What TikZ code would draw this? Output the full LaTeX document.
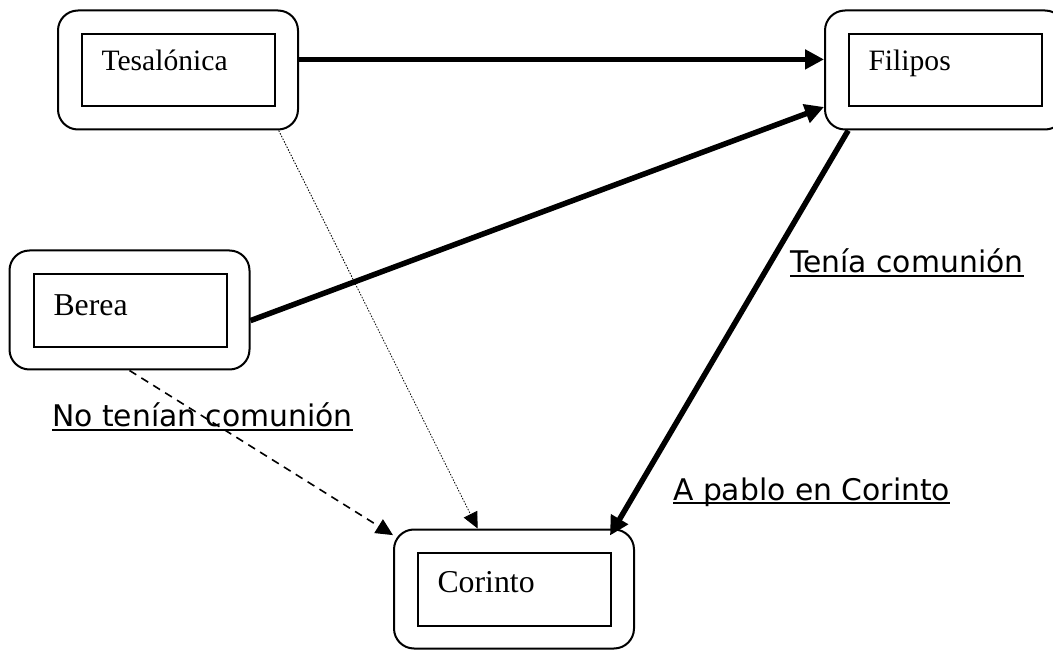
\documentclass[tikz,border=0pt]{standalone}
\usepackage{fontspec}
\setmainfont{Liberation Serif}
\newfontfamily\notefont{DejaVu Sans}
\usetikzlibrary{arrows.meta, calc}

\begin{document}
\begin{tikzpicture}[
    x=1pt, y=-1pt,
    every node/.style={align=left},
    city_frame/.style={draw, line width=2pt, rounded corners=20pt, minimum width=240pt, minimum height=119pt},
    city_box/.style={draw, line width=2pt, inner ysep=0pt, inner xsep=20pt, text width=153pt, font=\fontsize{29.6}{34}\selectfont},
    big_city/.style={font=\fontsize{31.8}{36}\selectfont},
    strong_arrow/.style={-{Triangle[length=19pt, width=19pt]}, line width=5.5pt},
    dash_arrow/.style={-{Triangle[length=17pt, width=16pt]}, line width=1.6pt, dash pattern=on 8pt off 6pt},
    dot_arrow/.style={-{Triangle[length=16pt, width=15pt]}, line width=0.8pt, dash pattern=on 1.5pt off 1.5pt},
    note/.style={inner sep=0pt, anchor=base west, font=\notefont\fontsize{29.8}{34}\selectfont},
    note_line/.style={line width=2pt}
  ]
    \useasboundingbox (0,0) rectangle (1053,652);

    % the four cities
    \node[city_frame] (tes) at (178,70) {};
    \node[city_box, text height=37pt, text depth=35pt] (tes_in) at (tes) {Tesalónica};

    \node[city_frame] (fil) at (945,70) {};
    \node[city_box, text height=37pt, text depth=35pt] (fil_in) at (fil) {Filipos};

    \node[city_frame] (ber) at (129.5,310) {};
    \node[city_box, big_city, text height=42pt, text depth=31pt] (ber_in) at (130,310.5) {Berea};

    \node[city_frame] (cor) at (514,589) {};
    \node[city_box, big_city, text height=40pt, text depth=33pt] (cor_in) at (cor) {Corinto};

    % connections
    \draw[strong_arrow] (tes.5) -- (fil.175);
    \draw[strong_arrow] (ber.-5) -- (fil.197);
    \draw[strong_arrow] (fil.212) -- ($(cor.north east)+(-25,7)$);
    \draw[dot_arrow] (tes.-31) -- (cor.121);
    \draw[dash_arrow] (ber.south) -- (cor.156);

    % underlined notes
    \node[note] (tenia) at (790,273) {Tenía comunión};
    \draw[note_line] ([yshift=-3.2pt]tenia.base west) -- ([yshift=-3.2pt]tenia.base east);

    \node[note] (pablo) at (673,500) {A pablo en Corinto};
    \draw[note_line] ([yshift=-3.2pt]pablo.base west) -- ([yshift=-3.2pt]pablo.base east);

    \node[note] (nocom) at (52,427) {No tenían comunión};
    \draw[note_line] ([yshift=-3.2pt]nocom.base west) -- ([yshift=-3.2pt]nocom.base east);

\end{tikzpicture}
\end{document}
